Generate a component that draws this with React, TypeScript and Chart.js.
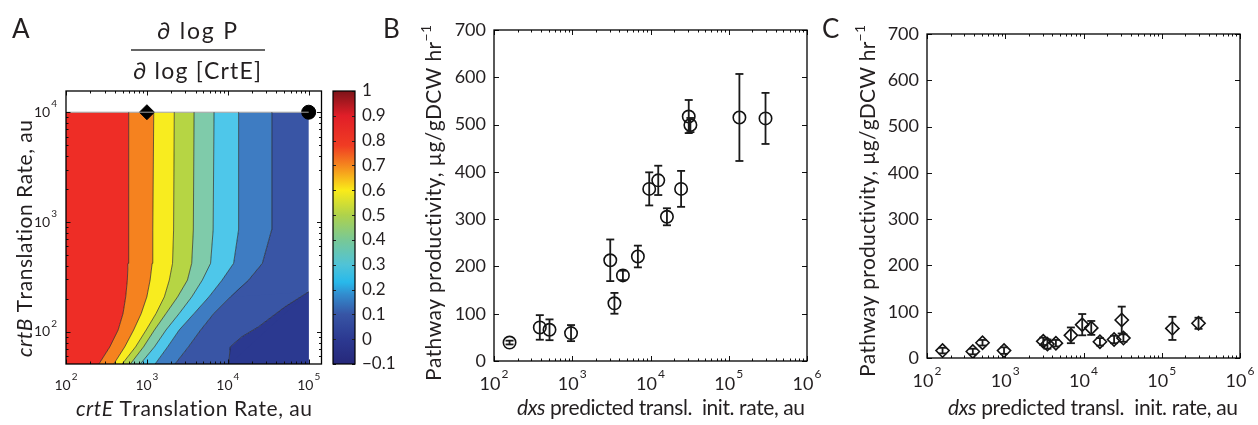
import React, { useEffect, useRef } from 'react';
import { Chart, registerables } from 'chart.js';

Chart.register(...registerables);

const FONT = 'Lato, "Noto Sans", sans-serif';
const INK = '#231f20';

// ---------------- Panel A: elasticity contour (crtB rate on y, crtE rate on x) -------------
const crtBLevels = [50, 73, 104, 147, 208, 296, 421, 845, 10000];
const contour1 = [251, 348, 441, 507, 547, 573, 585, 596, 596];
const contour2 = [383, 532, 686, 851, 998, 1096, 1161, 1183, 1215];
const contour3 = [484, 724, 979, 1297, 1641, 1892, 2075, 2138, 2180];
const contour4 = [612, 908, 1239, 1722, 2393, 3170, 3581, 3750, 3830];
const contour5 = [811, 1239, 1722, 2506, 3581, 4842, 6124, 6592, 6760];
const contour6 = [1239, 1803, 2506, 3828, 5834, 8490, 11800, 13580, 13600];
const contour7 = [2178, 3258, 4613, 6714, 10740, 18030, 26730, 34750, 35100];
const contour8CrtB = [50, 73, 90, 111, 169, 232, 10000];
const contour8CrtE = [10260, 10700, 14800, 23900, 50700, 100000, 100000];
const edgeCrtB = [50, 10000];
const crtEMin = 100;
const crtEMax = 100000;
const crtBMax = 10000;
const regionColors = ['#ee2d26', '#f5821f', '#f8ec1f', '#b6d544', '#7fcbaa', '#4ec7ea', '#3e7cc2', '#3955a5', '#2b3990'];
const diamondPoint = [{ x: 1000, y: 10000 }];
const circlePoint = [{ x: 100000, y: 10000 }];

// colour bar
const colorbarRange = [-0.1, 1];
const colorbarTicks = [-0.1, 0, 0.1, 0.2, 0.3, 0.4, 0.5, 0.6, 0.7, 0.8, 0.9, 1];
const colorbarLabels = ['\u22120.1', '0', '0.1', '0.2', '0.3', '0.4', '0.5', '0.6', '0.7', '0.8', '0.9', '1'];
const jetStops: [number, string][] = [
  [-0.1, '#26287a'], [0, '#2c3991'], [0.1, '#3755a5'], [0.18, '#328cce'], [0.23, '#28b9eb'],
  [0.3, '#50c3d7'], [0.4, '#78c896'], [0.5, '#afd24b'], [0.6, '#faeb19'], [0.7, '#f5871e'],
  [0.78, '#f03c23'], [0.9, '#e11e28'], [1, '#7d1419'],
];

// ---------------- Panels B and C -------------
const dxsRate = [158, 385, 512, 965, 3060, 3460, 4440, 6900, 9630, 12560, 16220, 24600, 30800, 32350, 136800, 295000];
const productivityB = [39, 71, 66, 59, 213, 122, 181, 221, 364, 382, 305, 364, 517, 499, 515, 513];
const errorB = [4, 26, 22, 17, 44, 22, 10, 23, 35, 31, 18, 38, 35, 15, 92, 54];
const productivityC = [16, 14, 33, 16, 36, 30, 32, 49, 72, 65, 35, 40, 82, 43, 64, 75];
const errorC = [6, 6, 6, 7, 8, 10, 7, 17, 23, 15, 8, 8, 29, 8, 25, 12];
const yTicksBC = [0, 100, 200, 300, 400, 500, 600, 700];
const yTickLabelsBC = ['0', '100', '200', '300', '400', '500', '600', '700'];
const xDecadesBC = [100, 1000, 10000, 100000, 1000000];
const xDecadesA = [100, 1000, 10000, 100000];
const yDecadesA = [100, 1000, 10000];

function logMinor(lo: number, hi: number) {
  const out: number[] = [];
  for (let e = Math.floor(Math.log10(lo)); e <= Math.ceil(Math.log10(hi)); e++) {
    for (let m = 2; m <= 9; m++) {
      const v = m * Math.pow(10, e);
      if (v > lo && v < hi) out.push(v);
    }
  }
  return out;
}

type Run = { t: string; i?: boolean; sup?: boolean };

function runFont(r: Run, size: number) {
  return `${r.i ? 'italic ' : ''}${r.sup ? Math.round(size * 0.68) : size}px ${FONT}`;
}

// draws text runs, spreading the letters so that the line spans `target` pixels
function drawRuns(
  ctx: CanvasRenderingContext2D,
  runs: Run[],
  size: number,
  x: number,
  y: number,
  align: 'left' | 'center',
  rot: boolean,
  target = 0
) {
  ctx.save();
  ctx.translate(x, y);
  if (rot) ctx.rotate(-Math.PI / 2);
  const items: { ch: string; font: string; w: number; dy: number }[] = [];
  runs.forEach((r) => {
    const font = runFont(r, size);
    ctx.font = font;
    for (const ch of Array.from(r.t)) {
      items.push({ ch, font, w: ctx.measureText(ch).width, dy: r.sup ? -size * 0.5 : 0 });
    }
  });
  const natural = items.reduce((s, it) => s + it.w, 0);
  const spacing = target > 0 && items.length > 1 ? (target - natural) / (items.length - 1) : 0;
  const total = natural + spacing * (items.length - 1);
  let cx = align === 'center' ? -total / 2 : 0;
  ctx.textBaseline = 'alphabetic';
  ctx.textAlign = 'left';
  ctx.fillStyle = INK;
  items.forEach((it) => {
    ctx.font = it.font;
    ctx.fillText(it.ch, cx, it.dy);
    cx += it.w + spacing;
  });
  ctx.restore();
}

type PowStyle = { size: number; exp: number; raise: number };
const POW_A: PowStyle = { size: 14, exp: 10, raise: 8.5 };
const POW_BC: PowStyle = { size: 18, exp: 12, raise: 10 };

function drawPow(ctx: CanvasRenderingContext2D, exp: number, x: number, cy: number, align: 'center' | 'right', st: PowStyle) {
  ctx.font = `${st.size}px ${FONT}`;
  const w10 = ctx.measureText('10').width;
  ctx.font = `${st.exp}px ${FONT}`;
  const we = ctx.measureText(String(exp)).width;
  const total = w10 + 1 + we;
  const x0 = align === 'center' ? x - total / 2 : x - total;
  ctx.fillStyle = INK;
  ctx.textAlign = 'left';
  ctx.textBaseline = 'middle';
  ctx.font = `${st.size}px ${FONT}`;
  ctx.fillText('10', x0, cy);
  ctx.font = `${st.exp}px ${FONT}`;
  ctx.fillText(String(exp), x0 + w10 + 1, cy - st.raise);
}

type AxisSpec = {
  xMajor: number[];
  xMinor: number[];
  yMajor: number[];
  yMinor: number[];
  yLog: boolean;
  yLabels?: string[];
  major: number;
  minor: number;
  pow: PowStyle;
  xLabelDy: number;
};

function drawAxes(chart: any, s: AxisSpec) {
  const ctx: CanvasRenderingContext2D = chart.ctx;
  const a = chart.chartArea;
  const xs = chart.scales.x;
  const ys = chart.scales.y;
  ctx.save();
  ctx.strokeStyle = '#111';
  ctx.lineWidth = 1;
  ctx.beginPath();
  const xt = (v: number, len: number) => {
    const p = Math.round(xs.getPixelForValue(v)) + 0.5;
    ctx.moveTo(p, a.bottom);
    ctx.lineTo(p, a.bottom - len);
    ctx.moveTo(p, a.top);
    ctx.lineTo(p, a.top + len);
  };
  const yt = (v: number, len: number) => {
    const p = Math.round(ys.getPixelForValue(v)) + 0.5;
    ctx.moveTo(a.left, p);
    ctx.lineTo(a.left + len, p);
    ctx.moveTo(a.right, p);
    ctx.lineTo(a.right - len, p);
  };
  s.xMajor.forEach((v) => xt(v, s.major));
  s.xMinor.forEach((v) => xt(v, s.minor));
  s.yMajor.forEach((v) => yt(v, s.major));
  s.yMinor.forEach((v) => yt(v, s.minor));
  ctx.stroke();
  ctx.lineWidth = 1.3;
  ctx.strokeStyle = '#000';
  ctx.strokeRect(a.left, a.top, a.right - a.left, a.bottom - a.top);
  s.xMajor.forEach((v) => {
    drawPow(ctx, Math.round(Math.log10(v)), xs.getPixelForValue(v), a.bottom + s.xLabelDy, 'center', s.pow);
  });
  if (s.yLog) {
    s.yMajor.forEach((v) => drawPow(ctx, Math.round(Math.log10(v)), a.left - 9, ys.getPixelForValue(v), 'right', s.pow));
  } else if (s.yLabels) {
    ctx.font = `${s.pow.size}px ${FONT}`;
    ctx.fillStyle = INK;
    ctx.textAlign = 'right';
    ctx.textBaseline = 'middle';
    s.yMajor.forEach((v, k) => ctx.fillText(s.yLabels![k], a.left - 8, ys.getPixelForValue(v)));
  }
  ctx.restore();
}

const lineColor = 'rgba(25,25,25,0.8)';
const TITLE = 21;

function makePanelA(canvas: HTMLCanvasElement) {
  const offX = 0;
  const contours = [contour1, contour2, contour3, contour4, contour5, contour6, contour7];
  const datasets: any[] = contours.map((cx, i) => ({
    data: cx.map((x, j) => ({ x, y: crtBLevels[j] })),
    fill: i === 0 ? { value: crtEMin } : '-1',
    backgroundColor: regionColors[i],
    borderColor: lineColor,
    borderWidth: 0.8,
    pointRadius: 0,
    tension: 0,
  }));
  datasets.push({
    data: contour8CrtE.map((x, j) => ({ x, y: contour8CrtB[j] })),
    fill: '-1',
    backgroundColor: regionColors[7],
    borderColor: lineColor,
    borderWidth: 0.8,
    pointRadius: 0,
    tension: 0,
    segment: {
      borderColor: (c: any) => (c.p0.parsed.x >= crtEMax && c.p1.parsed.x >= crtEMax ? 'rgba(0,0,0,0)' : undefined),
    },
  });
  datasets.push({
    data: edgeCrtB.map((y) => ({ x: crtEMax, y })),
    fill: '-1',
    backgroundColor: regionColors[8],
    borderColor: 'rgba(0,0,0,0)',
    borderWidth: 1,
    pointRadius: 0,
  });
  datasets.push({
    data: [{ x: crtEMin, y: crtBMax }, { x: crtEMax, y: crtBMax }],
    fill: false,
    borderColor: '#a0a0a0',
    borderWidth: 1,
    pointRadius: 0,
  });
  datasets.push({
    data: diamondPoint,
    showLine: false,
    pointStyle: 'rectRot',
    pointRadius: 7.5,
    pointBackgroundColor: '#000',
    pointBorderColor: '#000',
    pointBorderWidth: 1,
    clip: false,
  });
  datasets.push({
    data: circlePoint,
    showLine: false,
    pointStyle: 'circle',
    pointRadius: 7,
    pointBackgroundColor: '#000',
    pointBorderColor: '#000',
    pointBorderWidth: 1,
    clip: false,
  });
  const spec: AxisSpec = {
    xMajor: xDecadesA,
    xMinor: logMinor(100, 144000),
    yMajor: yDecadesA,
    yMinor: logMinor(51, 15600),
    yLog: true,
    major: 4.5,
    minor: 2.5,
    pow: POW_A,
    xLabelDy: 21,
  };
  const plugin = {
    id: 'panelA',
    afterDraw(chart: any) {
      drawAxes(chart, spec);
      const ctx: CanvasRenderingContext2D = chart.ctx;
      drawRuns(ctx, [{ t: 'A' }], 26, 12 - offX, 38, 'left', false);
      drawRuns(ctx, [{ t: '\u2202 log P' }], 23, 197 - offX, 38.5, 'center', false, 80);
      ctx.save();
      ctx.strokeStyle = '#333';
      ctx.lineWidth = 1.5;
      ctx.beginPath();
      ctx.moveTo(131 - offX, 50);
      ctx.lineTo(265 - offX, 50);
      ctx.stroke();
      ctx.restore();
      drawRuns(ctx, [{ t: '\u2202 log [CrtE]' }], 23, 197 - offX, 79, 'center', false, 128);
      drawRuns(ctx, [{ t: 'crtB', i: true }, { t: ' Translation Rate, au' }], TITLE, 32 - offX, 238.5, 'center', true, 237);
      drawRuns(ctx, [{ t: 'crtE', i: true }, { t: ' Translation Rate, au' }], TITLE, 194 - offX, 416, 'center', false, 236);
    },
  };
  return new Chart(canvas, {
    type: 'line',
    data: { datasets },
    options: {
      responsive: false,
      animation: false,
      events: [],
      indexAxis: 'y',
      layout: { padding: { left: 66, right: 6, top: 91, bottom: 61 } },
      plugins: { legend: { display: false }, tooltip: { enabled: false }, filler: { drawTime: 'beforeDatasetsDraw' } as any },
      scales: {
        x: { type: 'logarithmic', min: 100, max: 144000, display: false },
        y: { type: 'logarithmic', min: 51, max: 15600, display: false },
      },
    } as any,
    plugins: [plugin],
  });
}

function makeColorbar(canvas: HTMLCanvasElement) {
  const plugin = {
    id: 'cbar',
    afterDraw(chart: any) {
      const ctx: CanvasRenderingContext2D = chart.ctx;
      const a = chart.chartArea;
      const ys = chart.scales.y;
      ctx.save();
      ctx.strokeStyle = '#222';
      ctx.lineWidth = 1;
      ctx.beginPath();
      colorbarTicks.forEach((v) => {
        const p = Math.round(ys.getPixelForValue(v)) + 0.5;
        ctx.moveTo(a.left, p);
        ctx.lineTo(a.left + 3, p);
        ctx.moveTo(a.right, p);
        ctx.lineTo(a.right - 3, p);
      });
      ctx.stroke();
      ctx.lineWidth = 1.2;
      ctx.strokeStyle = '#000';
      ctx.strokeRect(a.left, a.top, a.right - a.left, a.bottom - a.top);
      ctx.font = `17px ${FONT}`;
      ctx.fillStyle = INK;
      ctx.textAlign = 'left';
      ctx.textBaseline = 'middle';
      colorbarTicks.forEach((v, k) => ctx.fillText(colorbarLabels[k], a.right + 7, ys.getPixelForValue(v)));
      ctx.restore();
    },
  };
  return new Chart(canvas, {
    type: 'bar',
    data: {
      labels: ['cb'],
      datasets: [
        {
          data: [colorbarRange] as any,
          backgroundColor: (c: any) => {
            const ch = c.chart;
            if (!ch.chartArea) return '#000';
            const ys = ch.scales.y;
            const g = ch.ctx.createLinearGradient(0, ys.getPixelForValue(colorbarRange[0]), 0, ys.getPixelForValue(colorbarRange[1]));
            jetStops.forEach(([v, col]) => g.addColorStop((v - colorbarRange[0]) / (colorbarRange[1] - colorbarRange[0]), col));
            return g;
          },
          borderWidth: 0,
          barPercentage: 1,
          categoryPercentage: 1,
        },
      ],
    },
    options: {
      responsive: false,
      animation: false,
      events: [],
      layout: { padding: { left: 8, right: 45, top: 91, bottom: 61 } },
      plugins: { legend: { display: false }, tooltip: { enabled: false } },
      scales: {
        x: { display: false },
        y: { display: false, min: colorbarRange[0], max: colorbarRange[1] },
      },
    } as any,
    plugins: [plugin],
  });
}

type ScatterOpts = {
  offX: number;
  pad: { left: number; right: number; top: number; bottom: number };
  values: number[];
  errors: number[];
  marker: string;
  radius: number;
  letter: string;
  letterX: number;
  yTitleX: number;
  yTitleY: number;
  yTitleLen: number;
  xTitleX: number;
  xTitleLen: number;
};

function makeScatter(canvas: HTMLCanvasElement, o: ScatterOpts) {
  const stems = dxsRate.flatMap((x, i) => [
    { x, y: o.values[i] - o.errors[i] },
    { x, y: o.values[i] + o.errors[i] },
    { x, y: null },
  ]);
  const caps = dxsRate.flatMap((x, i) => [
    { x, y: o.values[i] - o.errors[i] },
    { x, y: o.values[i] + o.errors[i] },
  ]);
  const points = dxsRate.map((x, i) => ({ x, y: o.values[i] }));
  const spec: AxisSpec = {
    xMajor: xDecadesBC,
    xMinor: logMinor(100, 1000000),
    yMajor: yTicksBC,
    yMinor: [],
    yLog: false,
    yLabels: yTickLabelsBC,
    major: 5,
    minor: 2.5,
    pow: POW_BC,
    xLabelDy: 23,
  };
  const plugin = {
    id: 'panel' + o.letter,
    afterDraw(chart: any) {
      drawAxes(chart, spec);
      const ctx: CanvasRenderingContext2D = chart.ctx;
      drawRuns(ctx, [{ t: o.letter }], 26, o.letterX - o.offX, 38, 'left', false);
      drawRuns(
        ctx,
        [{ t: 'Pathway productivity, \u00b5g/gDCW hr' }, { t: '\u22121', sup: true }],
        TITLE,
        o.yTitleX - o.offX,
        o.yTitleY,
        'center',
        true,
        o.yTitleLen
      );
      drawRuns(
        ctx,
        [{ t: 'dxs', i: true }, { t: ' predicted transl.  init. rate, au' }],
        TITLE,
        o.xTitleX - o.offX,
        415,
        'center',
        false,
        o.xTitleLen
      );
    },
  };
  return new Chart(canvas, {
    type: 'scatter',
    data: {
      datasets: [
        {
          data: stems as any,
          showLine: true,
          spanGaps: false,
          borderColor: '#1a1a1a',
          borderWidth: 1.8,
          pointRadius: 0,
        },
        {
          data: caps,
          showLine: false,
          pointStyle: 'line',
          pointRadius: 4,
          pointBorderColor: '#1a1a1a',
          pointBorderWidth: 1.8,
        },
        {
          data: points,
          showLine: false,
          pointStyle: o.marker,
          pointRadius: o.radius,
          pointBackgroundColor: 'rgba(0,0,0,0)',
          pointBorderColor: '#111',
          pointBorderWidth: 1.6,
        },
      ],
    },
    options: {
      responsive: false,
      animation: false,
      events: [],
      layout: { padding: o.pad },
      plugins: { legend: { display: false }, tooltip: { enabled: false } },
      scales: {
        x: { type: 'logarithmic', min: 100, max: 1000000, display: false, offset: false },
        y: { type: 'linear', min: 0, max: 700, display: false },
      },
    } as any,
    plugins: [plugin],
  });
}

export default function App() {
  const aRef = useRef<HTMLCanvasElement>(null);
  const cbRef = useRef<HTMLCanvasElement>(null);
  const bRef = useRef<HTMLCanvasElement>(null);
  const cRef = useRef<HTMLCanvasElement>(null);

  useEffect(() => {
    const charts: Chart[] = [];
    charts.push(makePanelA(aRef.current!));
    charts.push(makeColorbar(cbRef.current!));
    charts.push(
      makeScatter(bRef.current!, {
        offX: 375,
        pad: { left: 119, right: 23, top: 30, bottom: 64 },
        values: productivityB,
        errors: errorB,
        marker: 'circle',
        radius: 6.2,
        letter: 'B',
        letterX: 383,
        yTitleX: 441,
        yTitleY: 203,
        yTitleLen: 356,
        xTitleX: 661,
        xTitleLen: 288,
      })
    );
    charts.push(
      makeScatter(cRef.current!, {
        offX: 815,
        pad: { left: 112, right: 18, top: 34, bottom: 67 },
        values: productivityC,
        errors: errorC,
        marker: 'rectRot',
        radius: 6.6,
        letter: 'C',
        letterX: 822,
        yTitleX: 875,
        yTitleY: 201,
        yTitleLen: 352,
        xTitleX: 1093,
        xTitleLen: 290,
      })
    );
    return () => charts.forEach((c) => c.destroy());
  }, []);

  const abs = (left: number): React.CSSProperties => ({ position: 'absolute', left, top: 0 });
  return (
    <div style={{ position: 'absolute', left: 0, top: 0, width: 1258, height: 425, overflow: 'hidden', background: '#fff' }}>
      <canvas ref={aRef} width={330} height={425} style={abs(0)} />
      <canvas ref={cbRef} width={75} height={425} style={abs(325)} />
      <canvas ref={bRef} width={455} height={425} style={abs(375)} />
      <canvas ref={cRef} width={443} height={425} style={abs(815)} />
    </div>
  );
}
